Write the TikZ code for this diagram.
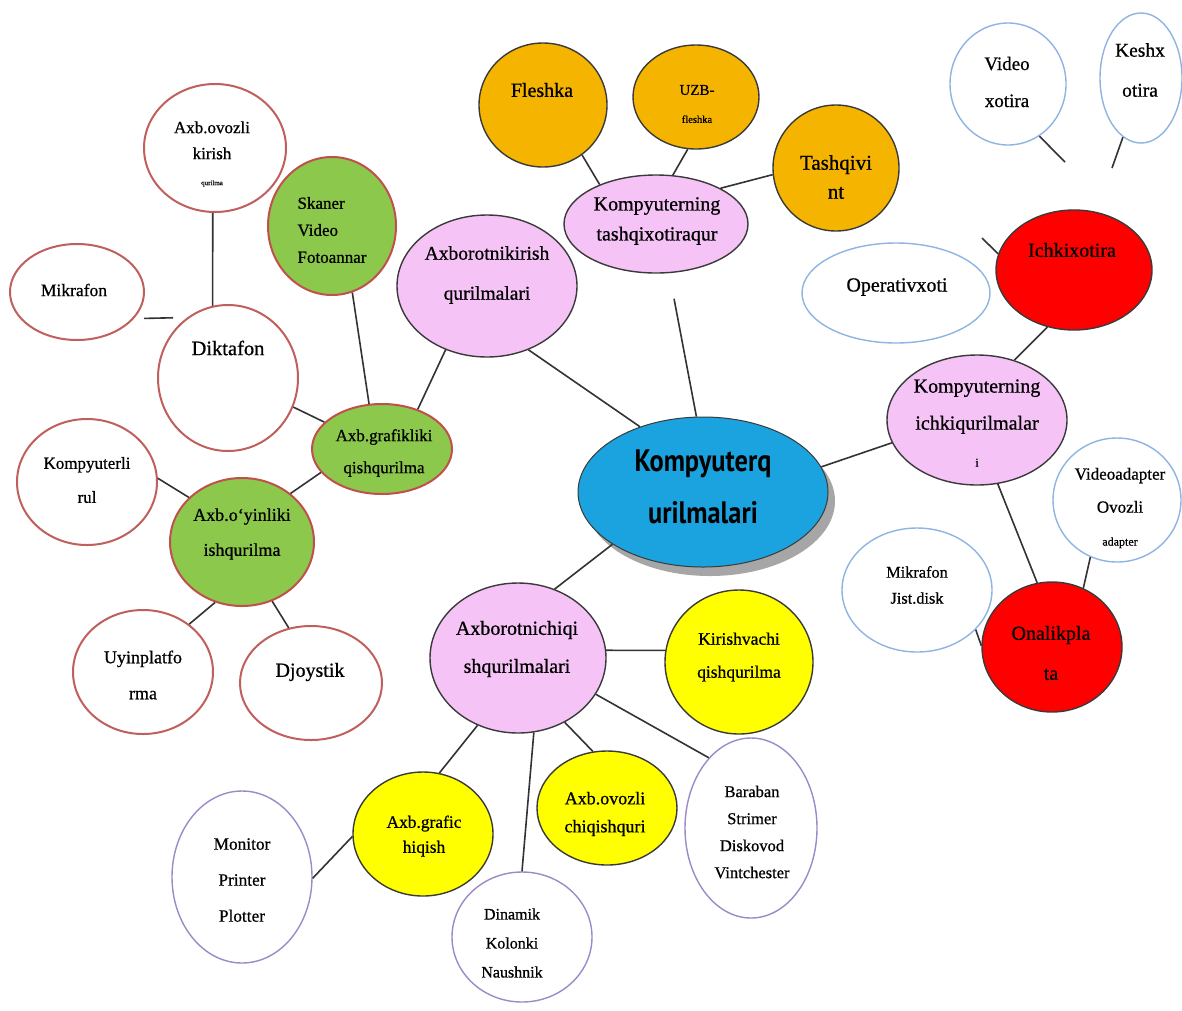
\documentclass[tikz,border=0pt]{standalone}
\usepackage{fontspec}
\setmainfont{Liberation Serif}[FakeBold=0.7]
\newfontfamily\ctrfont[FakeStretch=0.85]{PT Sans}
\usetikzlibrary{shapes.geometric,shadows}
\definecolor{pinkf}{HTML}{F5C3F5}
\definecolor{orangef}{HTML}{F5B400}
\definecolor{greenf}{HTML}{8CC84B}
\definecolor{yellowf}{HTML}{FFFF00}
\definecolor{redf}{HTML}{FF0000}
\definecolor{bluef}{HTML}{1AA3DE}
\definecolor{darkb}{HTML}{3A3A3A}
\definecolor{brownb}{HTML}{C0504D}
\definecolor{redb}{HTML}{C0605C}
\definecolor{blueb}{HTML}{8EB4E3}
\definecolor{purpb}{HTML}{9C8AC8}
\definecolor{linec}{HTML}{333333}
\newcommand\fs[2]{\fontsize{#1}{#2}\selectfont}
\tikzset{
 bub/.style={ellipse, inner sep=0pt, line width=1.4pt},
 pinkb/.style={bub, fill=pinkf, draw=darkb},
 orb/.style={bub, fill=orangef, draw=darkb},
 grb/.style={bub, fill=greenf, draw=brownb, line width=2pt},
 wrb/.style={bub, fill=white, draw=redb, line width=2pt},
 yeb/.style={bub, fill=yellowf, draw=darkb},
 rdb/.style={bub, fill=redf, draw=darkb},
 blb/.style={bub, fill=white, draw=blueb},
 pub/.style={bub, fill=white, draw=purpb},
 lnk/.style={draw=linec, line width=1.6pt},
 tx/.style={align=center, inner sep=0pt},
}
\begin{document}
\begin{tikzpicture}[x=1pt,y=-1pt]
\fill[white] (0,0) rectangle (1182,1010);
\useasboundingbox (0,0) rectangle (1182,1010);
% bubbles
\node[orb, minimum width=128pt, minimum height=124pt] (fl) at (543,105) {};
\node[orb, minimum width=126pt, minimum height=104pt] (uzb) at (696,97) {};
\node[orb, minimum width=126pt, minimum height=126pt] (tv) at (836,168) {};
\node[pinkb, minimum width=184pt, minimum height=98pt] (tq) at (656,224) {};
\node[pinkb, minimum width=180pt, minimum height=142pt] (ak) at (487,286) {};
\node[grb, minimum width=128pt, minimum height=138pt] (sk) at (332,226) {};
\node[grb, minimum width=140pt, minimum height=90pt] (gr) at (382,449) {};
\node[wrb, minimum width=140pt, minimum height=146pt] (dk) at (228,378) {};
\node[wrb, minimum width=142pt, minimum height=128pt] (aok) at (215,148) {};
\node[wrb, minimum width=134pt, minimum height=96pt] (mk) at (77,292) {};
\node[grb, minimum width=144pt, minimum height=128pt] (oy) at (242,542) {};
\node[wrb, minimum width=140pt, minimum height=126pt] (kr) at (87,482) {};
\node[wrb, minimum width=140pt, minimum height=124pt] (uy) at (143,672) {};
\node[wrb, minimum width=142pt, minimum height=114pt] (dj) at (311,683) {};
\node[bub, fill=bluef, draw=darkb, line width=1pt, minimum width=250pt, minimum height=150pt,
  drop shadow={shadow xshift=7pt, shadow yshift=-9pt, fill=gray!70, opacity=1}] (ctr) at (703,492) {};
\node[pinkb, minimum width=176pt, minimum height=150pt] (ch) at (518,658) {};
\node[yeb, minimum width=148pt, minimum height=144pt] (kv) at (739,662) {};
\node[pub, minimum width=132pt, minimum height=180pt] (bb) at (751,828) {};
\node[yeb, minimum width=140pt, minimum height=114pt] (aoc) at (607,808) {};
\node[pub, minimum width=140pt, minimum height=130pt] (dn) at (522,937) {};
\node[yeb, minimum width=140pt, minimum height=124pt] (agh) at (423,834) {};
\node[pub, minimum width=140pt, minimum height=172pt] (mon) at (242,877) {};
\node[pinkb, minimum width=180pt, minimum height=130pt] (ik) at (977,420) {};
\node[rdb, minimum width=156pt, minimum height=120pt] (ix) at (1074,270) {};
\node[blb, minimum width=188pt, minimum height=100pt] (op) at (896,293) {};
\node[blb, minimum width=116pt, minimum height=122pt] (vx) at (1008,84) {};
\node[blb, minimum width=82pt, minimum height=130pt] (kx) at (1141,78) {};
\node[blb, minimum width=128pt, minimum height=124pt] (va) at (1117,500) {};
\node[blb, minimum width=150pt, minimum height=124pt] (mj) at (917,590) {};
\node[rdb, minimum width=140pt, minimum height=130pt] (on) at (1052,647) {};
% texts
\node[tx, font=\fs{20}{30}] (fl-t) at (542,90) {Fleshka};
\node[tx, font=\fs{15}{28}] (uzb-t) at (697,104) {UZB-\\{\fs{10.5}{28}fleshka}};
\node[tx, font=\fs{21}{29}] (tv-t) at (836,177) {Tashqivi\\nt};
\node[tx, font=\fs{20}{30}] (tq-t) at (657,221) {Kompyuterning\\tashqixotiraqur};
\node[tx, font=\fs{19.5}{40}] (ak-t) at (487,275) {Axborotnikirish\\qurilmalari};
\node[tx, align=left, font=\fs{17}{27}] (sk-t) at (332,230) {Skaner\\Video\\Fotoannar};
\node[tx, font=\fs{17}{32}] (gr-t) at (384,453) {Axb.grafikliki\\qishqurilma};
\node[tx, font=\fs{20.5}{24}] (dk-t) at (228,348) {Diktafon};
\node[tx, font=\fs{17}{26}] (aok-t) at (212,154) {Axb.ovozli\\kirish\\{\fs{7}{22}qurilma}};
\node[tx, font=\fs{17.5}{24}] (mk-t) at (74,290) {Mikrafon};
\node[tx, font=\fs{18}{35}] (oy-t) at (242,534) {Axb.o`yinliki\\ishqurilma};
\node[tx, font=\fs{17}{34}] (kr-t) at (87,480) {Kompyuterli\\rul};
\node[tx, font=\fs{18}{36}] (uy-t) at (143,675) {Uyinplatfo\\rma};
\node[tx, font=\fs{20}{24}] (dj-t) at (310,672) {Djoystik};
\node[tx, font=\ctrfont\bfseries\fs{31}{52}] (ctr-t) at (703,487) {Kompyuterq\\urilmalari};
\node[tx, font=\fs{20}{38}] (ch-t) at (517,649) {Axborotnichiqi\\shqurilmalari};
\node[tx, font=\fs{17.5}{33}] (kv-t) at (739,657) {Kirishvachi\\qishqurilma};
\node[tx, font=\fs{16.5}{27}] (bb-t) at (752,832) {Baraban\\Strimer\\Diskovod\\Vintchester};
\node[tx, font=\fs{18}{28}] (aoc-t) at (605,814) {Axb.ovozli\\chiqishquri};
\node[tx, font=\fs{16}{29}] (dn-t) at (512,943) {Dinamik\\Kolonki\\Naushnik};
\node[tx, font=\fs{17.4}{25}] (agh-t) at (424,836) {Axb.grafic\\hiqish};
\node[tx, font=\fs{17.3}{36}] (mon-t) at (242,880) {Monitor\\Printer\\Plotter};
\node[tx, font=\fs{20}{37}] (ik-t) at (977,423) {Kompyuterning\\ichkiqurilmalar\\{\fs{12}{28}i}};
\node[tx, font=\fs{20}{24}] (ix-t) at (1072,250) {Ichkixotira};
\node[tx, font=\fs{20}{24}] (op-t) at (897,287) {Operativxoti};
\node[tx, font=\fs{19}{37}] (vx-t) at (1007,82) {Video\\xotira};
\node[tx, font=\fs{19.5}{40}] (kx-t) at (1140,70) {Keshx\\otira};
\node[tx, font=\fs{17}{33}] (va-t) at (1120,508) {Videoadapter\\Ovozli\\{\fs{12}{25}adapter}};
\node[tx, font=\fs{16.3}{26}] (mj-t) at (917,585) {Mikrafon\\Jist.disk};
\node[tx, font=\fs{20}{40}] (on-t) at (1051,653) {Onalikpla\\ta};
% connectors
\draw[lnk] (fl.-52) -- (tq.145);
\draw[lnk] (uzb.-99) -- (tq.71);
\draw[lnk] (tv.186) -- (tq.29);
\draw[lnk, shorten <=26pt] (tq.-75) -- (ctr.95);
\draw[lnk] (ak.-57) -- (ctr.134);
\draw[lnk] (sk.-73) -- (gr.106);
\draw[lnk] (ak.237) -- (gr.48);
\draw[lnk] (aok.-92) -- (dk.102);
\draw[lnk, shorten <=10pt, shorten >=14pt] (mk.-25) -- (dk.124);
\draw[lnk] (dk.-24) -- (gr.155);
\draw[lnk] (gr.201) -- (oy.45);
\draw[lnk] (kr.3) -- (oy.140);
\draw[lnk] (oy.-114) -- (uy.46);
\draw[lnk] (oy.-63) -- (dj.112);
\draw[lnk] (ctr.210) -- (ch.62);
\draw[lnk] (ch.5) -- (kv.171);
\draw[lnk] (ch.-25) -- (bb.121);
\draw[lnk] (ch.-54) -- (aoc.104);
\draw[lnk] (ch.-78) -- (dn.90);
\draw[lnk] (ch.-121) -- (agh.75);
\draw[lnk] (agh.182) -- (mon.-1);
\draw[lnk] (ctr.12) -- (ik.195);
\draw[lnk] (ix.-115) -- (ik.58);
\draw[lnk] (ik.-72) -- (on.103);
\draw[lnk] (va.-115) -- (on.62);
\draw[lnk] (mj.-34) -- (on.179);
\coordinate (s1) at (982,238);
\coordinate (s2) at (1065,162);
\coordinate (s3) at (1112,168);
\draw[lnk] (ix.168) -- (s1);
\draw[lnk] (vx.-59) -- (s2);
\draw[lnk] (kx.-107) -- (s3);
\end{tikzpicture}
\end{document}
